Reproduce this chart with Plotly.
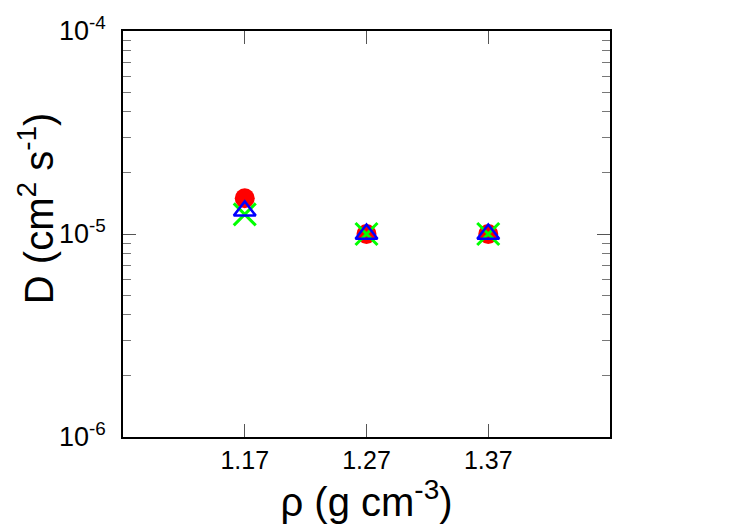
import plotly.graph_objects as go

density = [1.17, 1.27, 1.37]
d_red = [1.5e-5, 1.0e-5, 1.0e-5]
d_green = [1.25e-5, 1.0e-5, 1.0e-5]
d_blue = [1.3e-5, 1.0e-5, 1.0e-5]
xtick_vals = [1.17, 1.27, 1.37]
xtick_text = ["1.17", "1.27", "1.37"]
ytick_vals = [1e-6, 1e-5, 1e-4]
ytick_text = ["10<sup>-6</sup>", "10<sup>-5</sup>", "10<sup>-4</sup>"]
xlabel = "ρ (g cm<sup>-3</sup>)"
ylabel = "D (cm<sup>2</sup> s<sup>-1</sup>)"

fig = go.Figure()
fig.add_trace(go.Scatter(x=density, y=d_red, mode="markers",
                         marker=dict(symbol="circle", size=20, color="#ff0000", line=dict(width=0))))
fig.add_trace(go.Scatter(x=density, y=d_green, mode="markers",
                         marker=dict(symbol="x-thin-open", size=22, color="#00ff00", line=dict(width=3, color="#00ff00"))))
fig.add_trace(go.Scatter(x=density, y=d_blue, mode="markers",
                         marker=dict(symbol="triangle-up-open", size=19, color="#0000ff", line=dict(width=2.5, color="#0000ff"))))

font = "Liberation Sans, Arial, Helvetica, sans-serif"
fig.update_layout(
    width=750, height=525,
    margin=dict(l=123, r=140, t=29, b=88),
    paper_bgcolor="white", plot_bgcolor="white",
    showlegend=False,
    font=dict(family=font, color="black", size=24),
    xaxis=dict(range=[1.07, 1.47], tickmode="array", tickvals=xtick_vals, ticktext=xtick_text,
               ticks="inside", ticklen=13, tickcolor="#555555", tickwidth=1,
               showline=True, linecolor="black", linewidth=1.5, mirror="allticks",
               showgrid=False, zeroline=False,
               tickfont=dict(family=font, size=25, color="black"),
               title=dict(text=xlabel, font=dict(size=40), standoff=0)),
    yaxis=dict(type="log", range=[-6, -4], tickmode="array", tickvals=ytick_vals, ticktext=ytick_text,
               ticks="inside", ticklen=13, tickcolor="#555555", tickwidth=1,
               showline=True, linecolor="black", linewidth=1.5, mirror="allticks",
               showgrid=False, zeroline=False, ticklabelstandoff=10,
               tickfont=dict(family=font, size=27, color="black"),
               minor=dict(ticks="inside", ticklen=8, tickcolor="#777777", dtick="D1", showgrid=False)),
    annotations=[dict(text=ylabel, textangle=-90, xref="paper", yref="paper",
                      x=-(123 - 36) / 487, y=(437 - 207) / 408, xanchor="center", yanchor="middle",
                      showarrow=False, font=dict(family=font, size=40, color="black"))],
)
fig.write_html("out.html")
